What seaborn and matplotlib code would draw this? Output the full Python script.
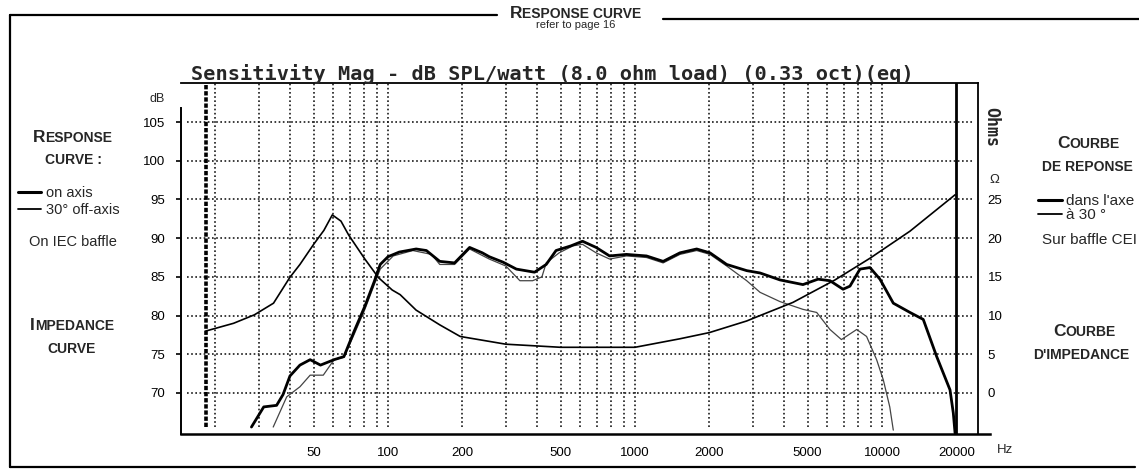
import matplotlib
matplotlib.use("Agg")
import pandas as pd
import matplotlib.pyplot as plt
from matplotlib.lines import Line2D
from matplotlib.ticker import NullLocator
import seaborn as sns

# values
on_axis_hz = [28, 31.4, 35.4, 37.6, 40.1, 44, 48.4, 53.3, 60.5, 66.3, 73, 80.6, 88,
              93, 100, 111, 130, 143, 162, 186, 214, 241, 257, 292, 331, 392, 437,
              479, 550, 613, 696, 789, 923, 1113, 1300, 1520, 1777, 2012, 2351, 2835,
              3208, 3865, 4786, 5508, 6156, 6954, 7418, 8143, 8936, 9810, 11110,
              12980, 14690, 16650, 18850, 19440, 19760]
on_axis_db = [65.6, 68.2, 68.4, 69.8, 72.2, 73.6, 74.3, 73.6, 74.3, 74.7, 78.0, 81.2,
              84.4, 86.6, 87.6, 88.2, 88.6, 88.4, 87.0, 86.8, 88.8, 88.1, 87.6, 86.9,
              86.0, 85.6, 86.6, 88.4, 89.0, 89.6, 88.8, 87.7, 87.9, 87.7, 87.0, 88.1,
              88.6, 88.1, 86.6, 85.8, 85.5, 84.6, 84.0, 84.7, 84.5, 83.4, 83.8, 86.0,
              86.2, 84.7, 81.6, 80.4, 79.5, 74.7, 70.4, 67.4, 64.8]

off_axis_hz = [34.3, 38.9, 44, 48.4, 54.7, 60.5, 66.3, 73, 80.6, 88, 93, 105, 126,
               150, 162, 186, 214, 257, 300, 342, 385, 420, 437, 493, 560, 613, 696,
               789, 923, 1113, 1300, 1520, 1777, 2012, 2351, 2833, 3208, 3865, 4786,
               5440, 6156, 6850, 7900, 8660, 9510, 10120, 10750, 11110]
off_axis_db = [65.6, 69.5, 70.8, 72.3, 72.3, 74.3, 74.6, 77.6, 80.8, 84.0, 86.0, 87.7,
               88.4, 87.9, 86.6, 86.6, 88.6, 87.3, 86.4, 84.5, 84.5, 85.0, 86.8, 88.1,
               89.0, 89.2, 88.1, 87.3, 87.7, 87.5, 86.8, 87.9, 88.4, 87.9, 86.4, 84.5,
               83.0, 81.8, 80.8, 80.4, 78.2, 76.9, 78.2, 77.3, 74.3, 71.7, 68.2, 65.2]

imp_hz = [18.3, 23.7, 28.8, 34.4, 40, 44, 50, 55, 59.5, 64.5, 69.3, 80.6, 91.5, 104,
          112, 130, 162, 196, 300, 500, 1000, 1520, 2000, 2833, 3208, 4360, 6450,
          8936, 12980, 19760]
imp_ohm = [8.0, 9.0, 10.1, 11.6, 14.9, 16.6, 19.2, 21.0, 23.0, 22.2, 20.4, 17.3, 14.9,
           13.3, 12.7, 10.7, 8.8, 7.3, 6.3, 5.9, 5.9, 7.0, 7.8, 9.3, 10.0, 11.7, 14.6,
           17.4, 20.9, 25.6]

db_ticks = [70, 75, 80, 85, 90, 95, 100, 105]
ohm_ticks = [0, 5, 10, 15, 20, 25]
hz_ticks = [50, 100, 200, 500, 1000, 2000, 5000, 10000, 20000]
hz_labels = ['50', '100', '200', '500', '1000', '2000', '5000', '10000', '20000']
grid_hz = [m * 10 ** e for e in (1, 2, 3) for m in range(1, 10) if m * 10 ** e >= 20] + [10000]
range_lo_hz = 18.3
range_hi_hz = 20000

title = 'Sensitivity Mag - dB SPL/watt (8.0 ohm load) (0.33 oct)(eq)'

sns.set_theme(style='white')
plt.rcParams['font.family'] = ['Liberation Sans', 'DejaVu Sans']

W, H = 1139, 471
def fx(px):
    return px / W
def fy(py):
    return 1 - py / H

fig = plt.figure(figsize=(11.39, 4.71), dpi=100)
fig.patch.set_facecolor('white')
ax = fig.add_axes([fx(181), fy(434), 797 / W, 351 / H])
ax.set_xscale('log')
ax.set_xlim(14.52, 24470)
ax.set_ylim(64.70, 110.04)

# dotted grid
gstyle = dict(color='#1a1a1a', lw=1.2, ls=(0, (1, 1.5)))
ax.vlines(grid_hz, 65.6, 110.04, **gstyle)
ax.hlines(db_ticks, 15.36, 23130, **gstyle)
ax.vlines([range_lo_hz], 65.6, 110.04, color='black', lw=2.6, ls=(0, (1.2, 0.5)))
ax.axvline(range_hi_hz, color='black', lw=2.0)

df_on = pd.DataFrame({'hz': on_axis_hz, 'db': on_axis_db})
df_off = pd.DataFrame({'hz': off_axis_hz, 'db': off_axis_db})
sns.lineplot(data=df_off, x='hz', y='db', ax=ax, color='#444444', lw=0.9,
             estimator=None, sort=False)
sns.lineplot(data=df_on, x='hz', y='db', ax=ax, color='black', lw=2.0,
             estimator=None, sort=False)

ax2 = ax.twinx()
ax2.set_ylim(-5.30, 40.04)
df_imp = pd.DataFrame({'hz': imp_hz, 'ohm': imp_ohm})
sns.lineplot(data=df_imp, x='hz', y='ohm', ax=ax2, color='black', lw=1.2,
             estimator=None, sort=False)

for a in (ax, ax2):
    a.set_xlabel('')
    a.set_ylabel('')

ax.set_xticks(hz_ticks)
ax.set_xticklabels(hz_labels)
ax.xaxis.set_minor_locator(NullLocator())
ax.set_yticks(db_ticks)
ax.tick_params(axis='x', bottom=False, pad=3, labelsize=9.5, colors='black')
ax.tick_params(axis='y', left=True, length=3.6, width=1.2, pad=8, labelsize=9.5,
               direction='out', colors='black')
ax2.set_yticks(ohm_ticks)
ax2.tick_params(axis='y', right=False, length=0, pad=7, labelsize=9.5, colors='black')

for s in ax2.spines.values():
    s.set_visible(False)
for name, lw in (('left', 1.4), ('bottom', 1.8), ('top', 1.3), ('right', 1.3)):
    ax.spines[name].set_color('black')
    ax.spines[name].set_linewidth(lw)
ax.spines['left'].set_bounds(64.70, 106.8)
ax.spines['bottom'].set_bounds(14.52, 27350)

# titles and axis captions
ax.text(0.0125, 1.0085, title, transform=ax.transAxes, va='baseline', ha='left',
        fontsize=14.6, fontweight='bold', family='DejaVu Sans Mono')
ax.text(-0.020, 108.0, 'dB', transform=ax.get_yaxis_transform(), ha='right',
        va='center', fontsize=9)
ax.text(1.024, -0.0456, 'Hz', transform=ax.transAxes, ha='left', va='center', fontsize=9.5)
ax2.text(1.020, 27.5, 'Ω', transform=ax2.get_yaxis_transform(), ha='center',
         va='center', fontsize=9.5)
ax2.text(1.017, 34.3, 'Ohms', transform=ax2.get_yaxis_transform(), ha='center',
         va='center', rotation=-90, fontsize=12, fontweight='bold',
         family='DejaVu Sans Mono')


def caps(x_px, y_px, big, rest, big_pt=12.5, small_pt=10):
    t = fig.text(fx(x_px), fy(y_px), big, fontsize=big_pt, fontweight='bold',
                 va='baseline', ha='left')
    if rest:
        ax.annotate(rest, xy=(1, 0), xycoords=t, fontsize=small_pt, fontweight='bold',
                    va='bottom', ha='left', annotation_clip=False)


caps(510, 18.3, 'R', 'ESPONSE CURVE', 12.5, 10)
fig.text(fx(576), fy(28), 'refer to page 16', fontsize=8, ha='center', va='baseline')

caps(33, 141.7, 'R', 'ESPONSE')
fig.text(fx(45), fy(164), 'CURVE :', fontsize=10, fontweight='bold', va='baseline')
caps(30, 330, 'I', 'MPEDANCE')
fig.text(fx(47), fy(352.7), 'CURVE', fontsize=10, fontweight='bold', va='baseline')
fig.text(fx(29), fy(242), 'On IEC baffle', fontsize=10.5, va='center')

caps(1057, 148, 'C', 'OURBE')
fig.text(fx(1042), fy(170.7), 'DE REPONSE', fontsize=10, fontweight='bold', va='baseline')
caps(1053, 336, 'C', 'OURBE')
fig.text(fx(1033), fy(359), "D'IMPEDANCE", fontsize=10, fontweight='bold', va='baseline')
fig.text(fx(1042), fy(240), 'Sur baffle CEI', fontsize=11, va='center')

h_on = Line2D([], [], color='black', lw=2.2)
h_off = Line2D([], [], color='black', lw=1.3)
fig.legend([h_on, h_off], ['on axis', '30° off-axis'], loc='upper left',
           bbox_to_anchor=(fx(18), fy(186)), frameon=False, fontsize=10.5,
           handlelength=1.6, handletextpad=0.35, labelspacing=0.2, borderpad=0,
           borderaxespad=0)
fig.legend([h_on, h_off], ["dans l'axe", 'à 30 °'], loc='upper left',
           bbox_to_anchor=(fx(1038), fy(194)), frameon=False, fontsize=11,
           handlelength=1.6, handletextpad=0.2, labelspacing=0.0, borderpad=0,
           borderaxespad=0)

# page frame from the scan
frame = dict(color='black', lw=1.6, transform=fig.transFigure)
fig.add_artist(Line2D([fx(10), fx(497)], [fy(15), fy(15)], **frame))
fig.add_artist(Line2D([fx(663), fx(1139)], [fy(19), fy(19)], **frame))
fig.add_artist(Line2D([fx(10), fx(10)], [fy(15), fy(467)], **frame))
fig.add_artist(Line2D([fx(10), fx(1135)], [fy(467), fy(467)], **frame))

fig.savefig('out.png', dpi=100, facecolor='white')
